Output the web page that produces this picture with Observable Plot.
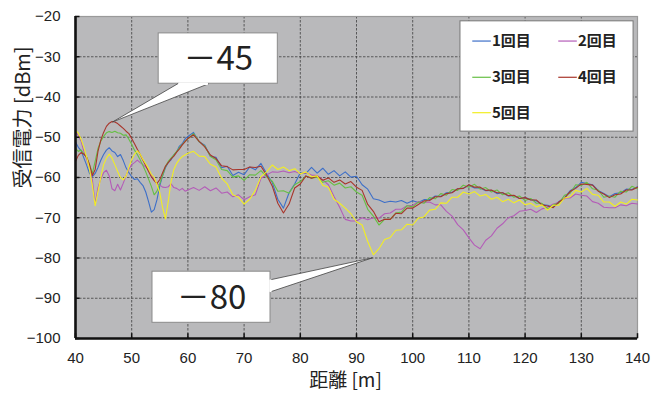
<!DOCTYPE html>
<html><head><meta charset="utf-8">
<script src="https://cdn.jsdelivr.net/npm/d3@7"></script>
<script src="https://cdn.jsdelivr.net/npm/@observablehq/plot@0.6"></script>
<style>body{margin:0;background:#fff}</style>
</head><body><div id="chart"></div>
<script>
const distance = [40,40.5,41,41.5,42,42.5,43,43.5,44,44.5,45,45.5,46,46.5,47,47.5,48,48.5,49,49.5,50,50.5,51,51.5,52,52.5,53,53.5,54,54.5,55,55.5,56,56.5,57,57.5,58,58.5,59,59.5,60,
61,62,63,64,65,66,67,68,69,70,71,72,73,74,75,76,77,78,79,80,
81,82,83,84,85,86,87,88,89,90,91,92,93,94,95,96,97,98,99,100,
101,102,103,104,105,106,107,108,109,110,111,112,113,114,115,116,117,118,119,120,
121,122,123,124,125,126,127,128,129,130,131,132,133,134,135,136,137,138,139,140];

const run1 = [-51.2,-52.5,-53.3,-55.2,-57,-59,-59.8,-59,-57.5,-55.7,-54.3,-53.2,-52.6,-53.4,-53.8,-54.8,-54.3,-55.8,-57.6,-58.8,-59.8,-60.5,-60.3,-61.2,-62,-63.6,-66,-68.6,-68,-65.5,-62,-59.6,-57.6,-56.3,-55.6,-54.4,-53.6,-52.2,-51.6,-50.4,-49.8,
-48.8,-51.1,-52.0,-54.7,-55.0,-57.6,-57.2,-59.5,-58.7,-59.3,-57.4,-58.1,-56.5,-59.0,-61.2,-65.4,-67.6,-63.8,-61.6,-58.8,
-59.0,-57.5,-58.9,-57.7,-59.2,-58.3,-59.6,-58.6,-59.9,-59.7,-61.8,-62.9,-65.3,-65.6,-66.2,-65.9,-66.1,-65.7,-66.4,-65.8,
-66.2,-65.5,-65.5,-64.6,-64.7,-63.8,-63.7,-62.8,-62.7,-62.0,-62.6,-62.6,-63.3,-63.2,-64.0,-63.8,-64.6,-64.5,-65.2,-65.0,
-65.5,-65.8,-66.7,-66.9,-67.2,-66.0,-65.0,-63.3,-62.5,-61.2,-61.5,-61.8,-63.2,-64.0,-64.8,-64.0,-63.8,-62.9,-63.0,-62.3];

const run2 = [-48.5,-49.6,-51,-53.6,-55.5,-57.8,-60.5,-66.5,-62.5,-60.4,-58.8,-58.2,-59.6,-62.8,-63.3,-61.7,-63.1,-61.4,-59.5,-57.9,-56.8,-56.3,-55.7,-56.3,-56.8,-57.4,-58.1,-59.4,-60.5,-61.6,-61.9,-62.4,-62.5,-62.3,-61.6,-62.5,-62.7,-63.2,-62.7,-63.4,-63.1,
-62.5,-63.2,-62.3,-63.3,-62.6,-63.9,-63.6,-64.8,-64.3,-65.5,-64.8,-64.3,-60.2,-59.4,-58.6,-58.7,-58.4,-58.8,-58.5,-59.0,
-58.8,-59.4,-59.5,-60.6,-61.8,-64.7,-67.4,-70.4,-70.8,-70.8,-70.0,-70.5,-70.0,-70.1,-69.0,-68.8,-67.9,-67.9,-67.0,-66.9,
-66.0,-66.2,-66.1,-66.8,-66.8,-68.4,-69.6,-71.7,-73.0,-75.0,-76.8,-77.7,-75.6,-74.5,-72.6,-71.5,-70.0,-69.5,-68.4,-68.2,
-67.9,-68.7,-67.8,-67.4,-66.6,-66.2,-65.1,-65.1,-64.1,-64.4,-64.6,-66.0,-66.4,-67.4,-67.5,-67.5,-66.8,-67.0,-66.4,-66.6];

const run3 = [-52.8,-53.5,-53.2,-54.2,-55,-56.8,-59,-56,-52.8,-51,-49.8,-48.9,-48.6,-48.8,-48.5,-48.9,-49,-49.5,-49.4,-50.5,-51.8,-53.2,-54.3,-55.6,-57,-58.6,-60.4,-62.2,-64.3,-63.4,-61.5,-59.5,-57.3,-56,-55.2,-54.4,-53.5,-52.6,-51.8,-51,-50.4,
-49.1,-51.1,-52.2,-54.8,-55.6,-58.0,-58.3,-59.9,-59.6,-60.7,-59.3,-59.4,-58.3,-59.8,-60.9,-63.4,-63.3,-63.9,-61.8,-61.0,
-59.6,-60.2,-59.9,-61.2,-60.8,-61.9,-61.4,-62.6,-62.3,-63.6,-64.4,-67.9,-69.6,-71.8,-70.4,-70.4,-68.8,-68.6,-67.0,-67.3,
-66.1,-66.4,-65.0,-65.3,-64.0,-64.4,-63.0,-63.2,-61.9,-62.4,-61.7,-62.9,-62.5,-63.6,-63.1,-64.3,-63.8,-64.9,-64.6,-65.7,
-65.2,-66.4,-66.4,-67.9,-66.8,-66.4,-64.4,-63.9,-61.8,-62.0,-61.2,-62.8,-63.1,-64.9,-64.6,-64.9,-63.4,-63.6,-62.2,-62.8];

const run4 = [-56,-54.5,-53.8,-54.2,-55,-56.8,-59.5,-58,-53.5,-50.7,-48.8,-47.3,-46.5,-46.1,-46.2,-46.6,-47.2,-47.8,-48.5,-49.1,-50.3,-51.6,-53,-54.3,-55.7,-57,-58.5,-59.8,-60.8,-61.5,-60.5,-58.8,-57.2,-56.3,-55.4,-54.7,-53.7,-52.9,-51.9,-51.1,-50.3,
-49.4,-51.0,-52.4,-54.4,-55.3,-57.1,-57.3,-58.1,-58.0,-58.0,-57.4,-57.5,-57.2,-59.4,-62.1,-66.4,-68.8,-66.6,-62.6,-61.6,
-59.6,-60.2,-59.7,-60.7,-60.1,-61.2,-60.6,-61.6,-61.0,-62.4,-63.2,-66.7,-68.4,-71.0,-70.4,-70.4,-68.9,-69.0,-67.6,-67.6,
-66.7,-65.8,-65.7,-64.8,-64.8,-64.0,-63.8,-62.8,-62.7,-61.8,-62.4,-62.4,-63.2,-63.1,-63.8,-63.8,-64.5,-64.4,-65.2,-65.0,
-65.6,-65.6,-66.8,-67.1,-67.5,-66.1,-65.2,-63.5,-62.7,-61.6,-61.7,-61.9,-63.4,-64.1,-65.0,-64.3,-64.1,-63.1,-63.1,-62.4];

const run5 = [-48.3,-49,-50.5,-52.5,-55,-58,-62,-67,-63.5,-60,-56.8,-55.2,-54.2,-55.2,-56.8,-58.5,-60,-60.6,-59.6,-57.5,-55.5,-54.2,-53.4,-54.2,-55.5,-56.6,-57.8,-59.2,-60,-61.8,-63.8,-67.5,-70.3,-66,-61,-58,-56.5,-55.5,-54.8,-54.4,-54,
-53.5,-54.7,-54.8,-56.7,-57.4,-60.2,-61.6,-64.3,-64.9,-66.6,-65.4,-63.2,-59.8,-58.6,-56.9,-58.0,-57.4,-58.3,-57.8,-59.1,
-58.6,-59.8,-59.6,-61.9,-62.4,-65.4,-66.4,-67.6,-69.0,-71.0,-71.8,-75.9,-79.2,-77.7,-75.4,-74.9,-73.1,-73.0,-71.6,-71.8,
-70.1,-69.8,-68.1,-67.9,-66.3,-66.4,-64.9,-64.9,-63.6,-64.1,-63.5,-64.6,-64.2,-65.4,-64.9,-66.0,-65.4,-66.3,-65.6,-66.8,
-66.4,-67.3,-66.8,-68.1,-66.9,-66.9,-65.1,-64.8,-63.2,-63.6,-62.7,-64.2,-64.4,-66.1,-66.1,-67.2,-66.1,-66.6,-65.4,-65.6];

const seriesNames = ["1回目","2回目","3回目","4回目","5回目"];
const seriesValues = [run1, run2, run3, run4, run5];
const seriesColors = ["#3d6fc8","#b45cb8","#66bf44","#a8352b","#f2ee22"];
const xTicks = [40,50,60,70,80,90,100,110,120,130,140];
const yTicks = [-100,-90,-80,-70,-60,-50,-40,-30,-20];
const calloutLabels = ["－45","－80"];

// annotation geometry (data coordinates)
const callouts = [
  {label: calloutLabels[0], x1: 54.8, x2: 76, y1: -36.7, y2: -24.2,
   wedge: [[58.2,-36.7],[46.6,-46.2],[63.7,-36.7]], cover: [[58.5,-36.7],[63.4,-36.7]]},
  {label: calloutLabels[1], x1: 53.7, x2: 74.7, y1: -96.1, y2: -83.4,
   wedge: [[74.7,-85.4],[92.85,-79.95],[74.7,-88.4]], cover: [[74.7,-85.6],[74.7,-88.2]]}
];

const lineMarks = seriesValues.map((vals, i) =>
  Plot.line(distance.map((d, j) => ({d, v: vals[j]})),
    {x: "d", y: "v", stroke: seriesColors[i], strokeWidth: 1.1})
);

// legend layout in data coordinates
const legendRows = [-26.1, -35.1, -43.9];
const legendItems = seriesNames.map((name, i) => {
  const col = i % 2, row = Math.floor(i / 2);
  const lx = col === 0 ? 110.6 : 125.9;
  return {name, color: seriesColors[i], lx1: lx, lx2: lx + 3.3, tx: lx + 3.5, y: legendRows[row]};
});

const calloutMarks = callouts.flatMap(c => [
  Plot.rect([c], {x1: "x1", x2: "x2", y1: "y1", y2: "y2", fill: "white", stroke: "#8a8a8a", strokeWidth: 1}),
  Plot.line(c.wedge, {x: d => d[0], y: d => d[1], fill: "white", stroke: "#444", strokeWidth: 0.8}),
  Plot.line(c.cover, {x: d => d[0], y: d => d[1], stroke: "white", strokeWidth: 2.5}),
  Plot.text([c], {x: d => (d.x1 + d.x2) / 2, y: d => (d.y1 + d.y2) / 2, text: "label",
    fontSize: 33, fill: "#222", fontFamily: "'Noto Sans CJK JP', 'Noto Sans', sans-serif", lineAnchor: "middle", dy: 1})
]);

const chart = Plot.plot({
  width: 652, height: 400,
  marginLeft: 75, marginRight: 15, marginTop: 16, marginBottom: 62,
  x: {domain: [40, 140]},
  y: {domain: [-100, -20]},
  style: {fontFamily: "'Liberation Sans', Arial, sans-serif", fontSize: "15px", background: "white", color: "#222"},
  marks: [
    Plot.frame({fill: "#b9b9bb"}),
    Plot.gridX(xTicks, {stroke: "#3a3a3a", strokeOpacity: 0.85, strokeDasharray: "2.5,1.5", strokeWidth: 0.9}),
    Plot.gridY(yTicks, {stroke: "#3a3a3a", strokeOpacity: 0.85, strokeDasharray: "2.5,1.5", strokeWidth: 0.9}),
    Plot.frame({stroke: "#9a9a9a", strokeWidth: 1.2}),
    ...lineMarks,
    // legend
    Plot.rect([0], {x1: 108.5, x2: 139.3, y1: -48.6, y2: -21.2, fill: "white", stroke: "#777", strokeWidth: 1}),
    Plot.link(legendItems, {x1: "lx1", x2: "lx2", y1: "y", y2: "y", stroke: "color", strokeWidth: 1.2}),
    Plot.text(legendItems, {x: "tx", y: "y", text: "name", textAnchor: "start", fontSize: 15, fontWeight: "bold",
      fill: "#222", fontFamily: "'Noto Sans CJK JP', sans-serif"}),
    // axes lines
    Plot.ruleX([40], {stroke: "#111", strokeWidth: 2.6}),
    Plot.ruleY([-100], {stroke: "#111", strokeWidth: 2.6}),
    Plot.ruleX(xTicks, {y1: -100, y2: -98.8, stroke: "#111", strokeWidth: 1.5}),
    Plot.ruleY(yTicks, {x1: 40, x2: 40.8, stroke: "#111", strokeWidth: 1.5}),
    Plot.axisX(xTicks, {tickSize: 0, tickPadding: 14, fontSize: 15, label: null}),
    Plot.axisY(yTicks, {tickSize: 0, tickPadding: 15, fontSize: 15, label: null}),
    Plot.text(["受信電力 [dBm]"], {frameAnchor: "left", dx: -52, dy: 11, rotate: -90, fontSize: 20,
      fill: "#222", fontFamily: "'Noto Sans CJK JP', sans-serif"}),
    Plot.text(["距離 [m]"], {frameAnchor: "bottom", dx: -11, dy: 48, fontSize: 19,
      fill: "#222", fontFamily: "'Noto Sans CJK JP', sans-serif"}),
    ...calloutMarks
  ]
});
document.getElementById("chart").appendChild(chart);
</script>
</body></html>
